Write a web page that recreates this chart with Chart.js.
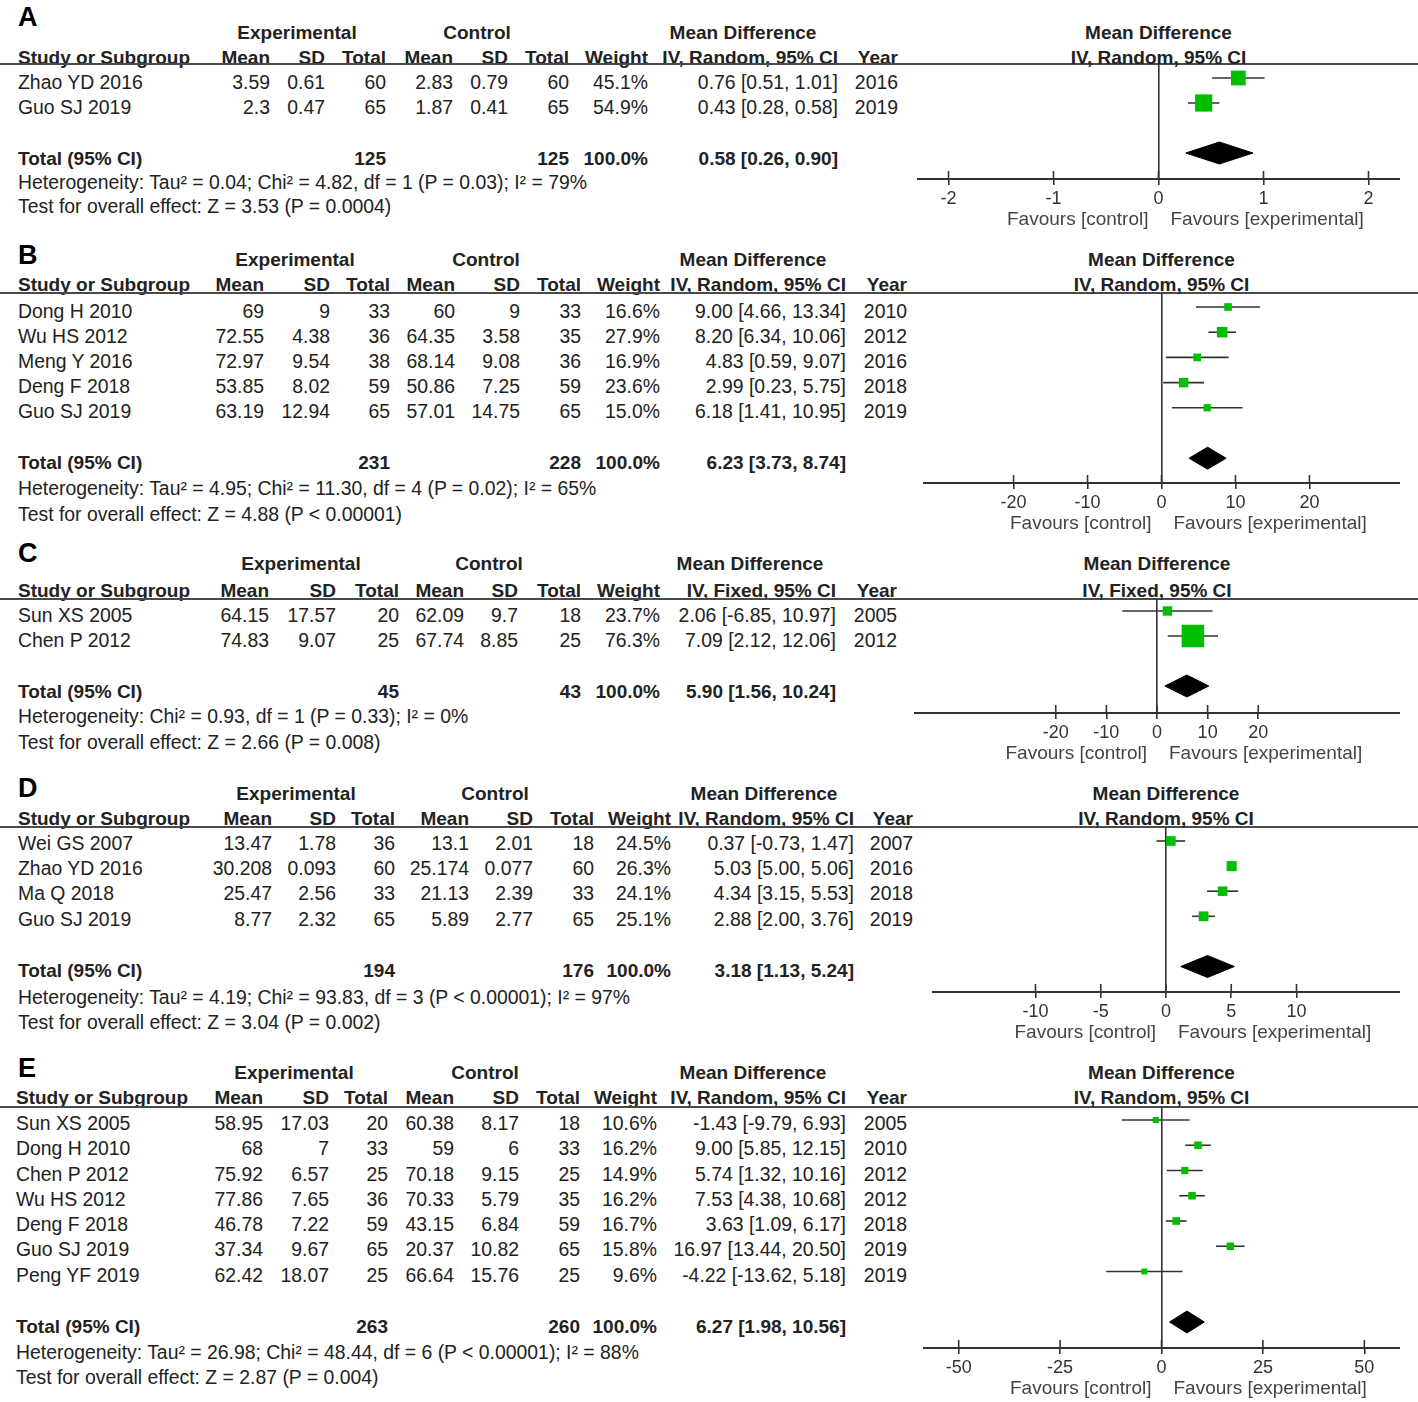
<!DOCTYPE html>
<html>
<head>
<meta charset="utf-8">
<script src="https://cdn.jsdelivr.net/npm/chart.js@4.4.1/dist/chart.umd.min.js"></script>
<style>
  html, body { margin: 0; padding: 0; background: #fff; }
  #page { position: relative; width: 1418px; height: 1402px; overflow: hidden;
          font-family: "Liberation Sans", Arial, sans-serif; font-size: 19.4px; color: #222; }
  .t { position: absolute; white-space: nowrap; line-height: 1; }
  .b { font-weight: bold; font-size: 19px; }
  .rule { position: absolute; left: 0; width: 1418px; height: 2px; background: #4a4a4a; }
  .plot { position: absolute; }
</style>
</head>
<body>
<div id="page"></div>
<script>
// ---- data, one entry per panel A..E ----
const panelNames = ["A", "B", "C", "D", "E"];
const methods = ["IV, Random, 95% CI", "IV, Random, 95% CI", "IV, Fixed, 95% CI", "IV, Random, 95% CI", "IV, Random, 95% CI"];

const studyNames = [
  ["Zhao YD 2016", "Guo SJ 2019"],
  ["Dong H 2010", "Wu HS 2012", "Meng Y 2016", "Deng F 2018", "Guo SJ 2019"],
  ["Sun XS 2005", "Chen P 2012"],
  ["Wei GS 2007", "Zhao YD 2016", "Ma Q 2018", "Guo SJ 2019"],
  ["Sun XS 2005", "Dong H 2010", "Chen P 2012", "Wu HS 2012", "Deng F 2018", "Guo SJ 2019", "Peng YF 2019"]
];
const expMean = [
  [3.59, 2.3],
  [69, 72.55, 72.97, 53.85, 63.19],
  [64.15, 74.83],
  [13.47, 30.208, 25.47, 8.77],
  [58.95, 68, 75.92, 77.86, 46.78, 37.34, 62.42]
];
const expSd = [
  [0.61, 0.47],
  [9, 4.38, 9.54, 8.02, 12.94],
  [17.57, 9.07],
  [1.78, 0.093, 2.56, 2.32],
  [17.03, 7, 6.57, 7.65, 7.22, 9.67, 18.07]
];
const expN = [
  [60, 65],
  [33, 36, 38, 59, 65],
  [20, 25],
  [36, 60, 33, 65],
  [20, 33, 25, 36, 59, 65, 25]
];
const ctlMean = [
  [2.83, 1.87],
  [60, 64.35, 68.14, 50.86, 57.01],
  [62.09, 67.74],
  [13.1, 25.174, 21.13, 5.89],
  [60.38, 59, 70.18, 70.33, 43.15, 20.37, 66.64]
];
const ctlSd = [
  [0.79, 0.41],
  [9, 3.58, 9.08, 7.25, 14.75],
  [9.7, 8.85],
  [2.01, 0.077, 2.39, 2.77],
  [8.17, 6, 9.15, 5.79, 6.84, 10.82, 15.76]
];
const ctlN = [
  [60, 65],
  [33, 35, 36, 59, 65],
  [18, 25],
  [18, 60, 33, 65],
  [18, 33, 25, 35, 59, 65, 25]
];
const weights = [
  [45.1, 54.9],
  [16.6, 27.9, 16.9, 23.6, 15.0],
  [23.7, 76.3],
  [24.5, 26.3, 24.1, 25.1],
  [10.6, 16.2, 14.9, 16.2, 16.7, 15.8, 9.6]
];
const meanDiff = [
  [0.76, 0.43],
  [9.00, 8.20, 4.83, 2.99, 6.18],
  [2.06, 7.09],
  [0.37, 5.03, 4.34, 2.88],
  [-1.43, 9.00, 5.74, 7.53, 3.63, 16.97, -4.22]
];
const ciLow = [
  [0.51, 0.28],
  [4.66, 6.34, 0.59, 0.23, 1.41],
  [-6.85, 2.12],
  [-0.73, 5.00, 3.15, 2.00],
  [-9.79, 5.85, 1.32, 4.38, 1.09, 13.44, -13.62]
];
const ciHigh = [
  [1.01, 0.58],
  [13.34, 10.06, 9.07, 5.75, 10.95],
  [10.97, 12.06],
  [1.47, 5.06, 5.53, 3.76],
  [6.93, 12.15, 10.16, 10.68, 6.17, 20.50, 5.18]
];
const years = [
  [2016, 2019],
  [2010, 2012, 2016, 2018, 2019],
  [2005, 2012],
  [2007, 2016, 2018, 2019],
  [2005, 2010, 2012, 2012, 2018, 2019, 2019]
];
const expTotal = [125, 231, 45, 194, 263];
const ctlTotal = [125, 228, 43, 176, 260];
const pooledMd = [0.58, 6.23, 5.90, 3.18, 6.27];
const pooledLow = [0.26, 3.73, 1.56, 1.13, 1.98];
const pooledHigh = [0.90, 8.74, 10.24, 5.24, 10.56];
const heterogeneity = [
  "Heterogeneity: Tau\u00b2 = 0.04; Chi\u00b2 = 4.82, df = 1 (P = 0.03); I\u00b2 = 79%",
  "Heterogeneity: Tau\u00b2 = 4.95; Chi\u00b2 = 11.30, df = 4 (P = 0.02); I\u00b2 = 65%",
  "Heterogeneity: Chi\u00b2 = 0.93, df = 1 (P = 0.33); I\u00b2 = 0%",
  "Heterogeneity: Tau\u00b2 = 4.19; Chi\u00b2 = 93.83, df = 3 (P < 0.00001); I\u00b2 = 97%",
  "Heterogeneity: Tau\u00b2 = 26.98; Chi\u00b2 = 48.44, df = 6 (P < 0.00001); I\u00b2 = 88%"
];
const overallTest = [
  "Test for overall effect: Z = 3.53 (P = 0.0004)",
  "Test for overall effect: Z = 4.88 (P < 0.00001)",
  "Test for overall effect: Z = 2.66 (P = 0.008)",
  "Test for overall effect: Z = 3.04 (P = 0.002)",
  "Test for overall effect: Z = 2.87 (P = 0.004)"
];
const xTicks = [
  [-2, -1, 0, 1, 2],
  [-20, -10, 0, 10, 20],
  [-20, -10, 0, 10, 20],
  [-10, -5, 0, 5, 10],
  [-50, -25, 0, 25, 50]
];

// ---- layout (pixel positions only) ----
const layouts = [
  { label: 17, group: 32, head: 57, line: 64, row0: 83, step: 25, het: 183, test: 207,
    axis: 179, mark0: 78, markStep: 25, left: 917, width: 483, xMax: 2.3, nameX: 18,
    cols: [270, 325, 386, 453, 508, 569, 648, 838, 898], grp: [297, 477, 743] },
  { label: 255, group: 259, head: 284, line: 293, row0: 312, step: 25, het: 489, test: 515,
    axis: 483, mark0: 307, markStep: 25.2, left: 923, width: 477, xMax: 32.25, nameX: 18,
    cols: [264, 330, 390, 455, 520, 581, 660, 846, 907], grp: [295, 486, 753] },
  { label: 553, group: 563, head: 590, line: 599, row0: 616, step: 25, het: 717, test: 743,
    axis: 713, mark0: 611, markStep: 25, left: 914, width: 486, xMax: 48, nameX: 18,
    cols: [269, 336, 399, 464, 518, 581, 660, 836, 897], grp: [301, 489, 750] },
  { label: 788, group: 793, head: 818, line: 827, row0: 844, step: 25.2, het: 998, test: 1023,
    axis: 992, mark0: 841, markStep: 25.1, left: 932, width: 468, xMax: 17.93, nameX: 18,
    cols: [272, 336, 395, 469, 533, 594, 671, 854, 913], grp: [296, 495, 764] },
  { label: 1068, group: 1072, head: 1097, line: 1107, row0: 1124, step: 25.25, het: 1353, test: 1378,
    axis: 1348, mark0: 1120, markStep: 25.25, left: 923, width: 477, xMax: 58.8, nameX: 16,
    cols: [263, 329, 388, 454, 519, 580, 657, 846, 907], grp: [294, 485, 753] }
];

const FONT = '"Liberation Sans", Arial, sans-serif';
const page = document.getElementById("page");

function put(x, y, s, align, bold, size, color) {
  const el = document.createElement("div");
  el.className = "t" + (bold ? " b" : "");
  el.textContent = s;
  el.style.left = x + "px";
  el.style.top = y + "px";
  const tx = align === "right" ? "-100%" : align === "center" ? "-50%" : "0";
  el.style.transform = "translate(" + tx + ", -50%)";
  if (size) el.style.fontSize = size + "px";
  if (color) el.style.color = color;
  page.appendChild(el);
}

const f2 = v => v.toFixed(2);
const ciText = (m, l, h) => f2(m) + " [" + f2(l) + ", " + f2(h) + "]";

// favours labels + tick marks crossing the axis
const forestLabels = {
  id: "forestLabels",
  afterDraw(chart) {
    const { ctx, chartArea, scales } = chart;
    const x = scales.x;
    const base = chartArea.bottom;
    const zero = x.getPixelForValue(0);
    ctx.save();
    ctx.strokeStyle = "#333";
    ctx.lineWidth = 1.6;
    x.ticks.forEach(t => {
      const px = x.getPixelForValue(t.value);
      ctx.beginPath();
      ctx.moveTo(px, base - 8);
      ctx.lineTo(px, base);
      ctx.stroke();
    });
    ctx.font = "19px " + FONT;
    ctx.fillStyle = "#444";
    ctx.textBaseline = "middle";
    ctx.textAlign = "right";
    ctx.fillText("Favours [control]", zero - 10, base + 41);
    ctx.textAlign = "left";
    ctx.fillText("Favours [experimental]", zero + 12, base + 41);
    ctx.restore();
  }
};

panelNames.forEach((name, p) => {
  const L = layouts[p];
  const n = studyNames[p].length;
  const c = L.cols;

  // table text
  put(18, L.label, name, "left", true, 27, "#000");
  put(L.grp[0], L.group, "Experimental", "center", true);
  put(L.grp[1], L.group, "Control", "center", true);
  put(L.grp[2], L.group, "Mean Difference", "center", true);
  put(L.nameX, L.head, "Study or Subgroup", "left", true);
  ["Mean", "SD", "Total", "Mean", "SD", "Total", "Weight", methods[p], "Year"]
    .forEach((h, k) => put(c[k], L.head, h, "right", true));

  const rule = document.createElement("div");
  rule.className = "rule";
  rule.style.top = (L.line - 1) + "px";
  page.appendChild(rule);

  studyNames[p].forEach((s, i) => {
    const y = L.row0 + i * L.step;
    put(L.nameX, y, s, "left");
    put(c[0], y, String(expMean[p][i]), "right");
    put(c[1], y, String(expSd[p][i]), "right");
    put(c[2], y, String(expN[p][i]), "right");
    put(c[3], y, String(ctlMean[p][i]), "right");
    put(c[4], y, String(ctlSd[p][i]), "right");
    put(c[5], y, String(ctlN[p][i]), "right");
    put(c[6], y, weights[p][i].toFixed(1) + "%", "right");
    put(c[7], y, ciText(meanDiff[p][i], ciLow[p][i], ciHigh[p][i]), "right");
    put(c[8], y, String(years[p][i]), "right");
  });
  const ty = L.row0 + (n + 1) * L.step;
  put(L.nameX, ty, "Total (95% CI)", "left", true);
  put(c[2], ty, String(expTotal[p]), "right", true);
  put(c[5], ty, String(ctlTotal[p]), "right", true);
  put(c[6], ty, "100.0%", "right", true);
  put(c[7], ty, ciText(pooledMd[p], pooledLow[p], pooledHigh[p]), "right", true);
  put(L.nameX, L.het, heterogeneity[p], "left");
  put(L.nameX, L.test, overallTest[p], "left");

  // plot header
  const mid = L.left + L.width / 2;
  put(mid, L.group, "Mean Difference", "center", true);
  put(mid, L.head, methods[p], "center", true);

  // forest plot canvas
  const areaH = L.axis - L.line;
  const box = document.createElement("div");
  box.className = "plot";
  box.style.left = L.left + "px";
  box.style.top = L.line + "px";
  box.style.width = L.width + "px";
  box.style.height = (areaH + 60) + "px";
  const cv = document.createElement("canvas");
  box.appendChild(cv);
  page.appendChild(box);

  const yMin = -(L.mark0 - L.line) / L.markStep;
  const yMax = (L.axis - L.mark0) / L.markStep;
  const half = 11 / L.markStep;
  const r = n + 1;

  const squares = {
    data: meanDiff[p].map((v, i) => ({ x: v, y: i })),
    showLine: false,
    pointStyle: "rect",
    pointRadius: weights[p].map(w => (3.5 + 0.25 * w) / Math.SQRT2),
    pointBackgroundColor: "#00bf00",
    pointBorderWidth: 0,
    order: 0
  };
  const whiskers = ciLow[p].map((lo, i) => ({
    data: [{ x: lo, y: i }, { x: ciHigh[p][i], y: i }],
    borderColor: "#333",
    borderWidth: 1.6,
    pointRadius: 0,
    order: 2
  }));
  const diamond = {
    data: [
      { x: pooledLow[p], y: r },
      { x: pooledMd[p], y: r - half },
      { x: pooledHigh[p], y: r },
      { x: pooledMd[p], y: r + half },
      { x: pooledLow[p], y: r }
    ],
    borderColor: "#000",
    backgroundColor: "#000",
    borderWidth: 1,
    fill: "shape",
    pointRadius: 0,
    tension: 0,
    order: 1
  };

  new Chart(cv.getContext("2d"), {
    type: "line",
    data: { datasets: [squares, diamond].concat(whiskers) },
    options: {
      responsive: true,
      maintainAspectRatio: false,
      animation: false,
      events: [],
      layout: { padding: 0, autoPadding: false },
      plugins: { legend: { display: false }, tooltip: { enabled: false } },
      scales: {
        x: {
          type: "linear",
          min: -L.xMax,
          max: L.xMax,
          afterBuildTicks: s => { s.ticks = xTicks[p].map(v => ({ value: v })); },
          afterFit: s => { s.height = 60; },
          grid: {
            color: ctx => (ctx.tick && ctx.tick.value === 0) ? "#333" : "rgba(0,0,0,0)",
            lineWidth: 1.6,
            tickLength: 6,
            tickColor: "#333",
            tickWidth: 1.6
          },
          border: { display: true, color: "#333", width: 2 },
          ticks: {
            color: "#333",
            font: { family: FONT, size: 18 },
            padding: 3,
            maxRotation: 0,
            autoSkip: false,
            callback: v => String(v)
          }
        },
        y: { type: "linear", display: false, reverse: true, min: yMin, max: yMax }
      }
    },
    plugins: [forestLabels]
  });
});
</script>
</body>
</html>
